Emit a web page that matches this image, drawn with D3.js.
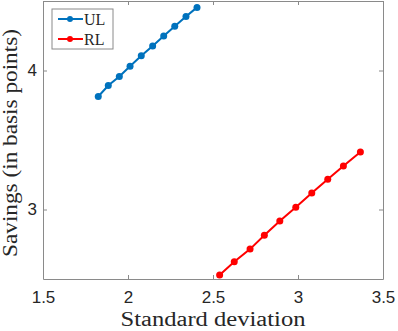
<!DOCTYPE html>
<html>
<head>
<meta charset="utf-8">
<script src="https://cdn.jsdelivr.net/npm/d3@7"></script>
<style>
  body { margin: 0; background: #fff; }
  svg { display: block; }
  .sans { font-family: "Liberation Sans", Arial, sans-serif; }
  .serif { font-family: "Liberation Serif", "Times New Roman", serif; }
</style>
</head>
<body>
<div id="chart"></div>
<script>
// data
var ulStd = [1.825, 1.884, 1.949, 2.012, 2.078, 2.145, 2.210, 2.275, 2.341, 2.406];
var ulSavings = [3.813, 3.892, 3.957, 4.031, 4.106, 4.177, 4.249, 4.318, 4.388, 4.454];
var rlStd = [2.539, 2.625, 2.718, 2.802, 2.893, 2.987, 3.081, 3.175, 3.267, 3.367];
var rlSavings = [2.528, 2.624, 2.715, 2.815, 2.918, 3.017, 3.119, 3.218, 3.313, 3.413];
var xTicks = [1.5, 2, 2.5, 3, 3.5];
var yTicks = [3, 4];
var seriesNames = ["UL", "RL"];
var seriesColors = ["#0072BD", "#FF0000"];

var width = 398, height = 331;
var margin = { left: 43, right: 15, top: 1, bottom: 52 };

var svg = d3.select("#chart").append("svg")
  .attr("width", width)
  .attr("height", height);

var x = d3.scaleLinear().domain([1.5, 3.5]).range([margin.left, width - margin.right]);
var y = d3.scaleLinear().domain([2.5, 4.5]).range([height - margin.bottom, margin.top]);

var axisColor = "#8a8a8a";
var textColor = "#262626";

// axes (ticks point inward, mirrored on top/right)
var gx = svg.append("g")
  .attr("transform", "translate(0," + y.range()[0] + ")")
  .call(d3.axisBottom(x).tickValues(xTicks).tickSizeInner(-4).tickSizeOuter(0)
    .tickFormat(d3.format("")));
var gxTop = svg.append("g")
  .attr("transform", "translate(0," + y.range()[1] + ")")
  .call(d3.axisTop(x).tickValues(xTicks).tickSizeInner(-4).tickSizeOuter(0).tickFormat(""));
var gy = svg.append("g")
  .attr("transform", "translate(" + x.range()[0] + ",0)")
  .call(d3.axisLeft(y).tickValues(yTicks).tickSizeInner(-4).tickSizeOuter(0)
    .tickFormat(d3.format("")));
var gyRight = svg.append("g")
  .attr("transform", "translate(" + x.range()[1] + ",0)")
  .call(d3.axisRight(y).tickValues(yTicks).tickSizeInner(-4).tickSizeOuter(0).tickFormat(""));

[gx, gxTop, gy, gyRight].forEach(function (g) {
  g.attr("font-family", null).attr("font-size", null).attr("class", "sans");
  g.select(".domain").attr("stroke", axisColor).attr("stroke-width", 1);
  g.selectAll(".tick line").attr("stroke", axisColor);
  g.selectAll(".tick text")
    .attr("fill", textColor)
    .style("font-size", "17px");
});
gx.selectAll(".tick text").attr("dy", "1.25em");
gy.selectAll(".tick text").attr("x", -6);

// series
var series = [
  { name: seriesNames[0], color: seriesColors[0], xs: ulStd, ys: ulSavings },
  { name: seriesNames[1], color: seriesColors[1], xs: rlStd, ys: rlSavings }
];

var line = d3.line()
  .x(function (d) { return x(d[0]); })
  .y(function (d) { return y(d[1]); });

series.forEach(function (s) {
  var pts = s.xs.map(function (v, i) { return [v, s.ys[i]]; });
  svg.append("path")
    .datum(pts)
    .attr("d", line)
    .attr("fill", "none")
    .attr("stroke", s.color)
    .attr("stroke-width", 2);
  svg.selectAll(null)
    .data(pts)
    .enter()
    .append("circle")
    .attr("cx", function (d) { return x(d[0]); })
    .attr("cy", function (d) { return y(d[1]); })
    .attr("r", 3.5)
    .attr("fill", s.color);
});

// legend
var legend = svg.append("g").attr("transform", "translate(52,9)");
legend.append("rect")
  .attr("width", 61)
  .attr("height", 40)
  .attr("fill", "#fff")
  .attr("stroke", axisColor)
  .attr("stroke-width", 1);
series.forEach(function (s, i) {
  var ly = 10 + i * 20;
  legend.append("line")
    .attr("x1", 6).attr("x2", 31)
    .attr("y1", ly).attr("y2", ly)
    .attr("stroke", s.color)
    .attr("stroke-width", 2);
  legend.append("circle")
    .attr("cx", 18).attr("cy", ly).attr("r", 3)
    .attr("fill", s.color);
  legend.append("text")
    .attr("class", "serif")
    .attr("x", 32).attr("y", ly)
    .attr("dy", "0.35em")
    .attr("fill", textColor)
    .style("font-size", "16px")
    .text(s.name);
});

// axis labels
svg.append("text")
  .attr("class", "serif")
  .attr("x", (x.range()[0] + x.range()[1]) / 2)
  .attr("y", 326)
  .attr("text-anchor", "middle")
  .attr("fill", textColor)
  .style("font-size", "20px")
  .attr("textLength", 185)
  .attr("lengthAdjust", "spacingAndGlyphs")
  .text("Standard deviation");

svg.append("text")
  .attr("class", "serif")
  .attr("transform", "translate(17,143) rotate(-90)")
  .attr("text-anchor", "middle")
  .attr("fill", textColor)
  .style("font-size", "20px")
  .attr("textLength", 228)
  .attr("lengthAdjust", "spacingAndGlyphs")
  .text("Savings (in basis points)");
</script>
</body>
</html>
